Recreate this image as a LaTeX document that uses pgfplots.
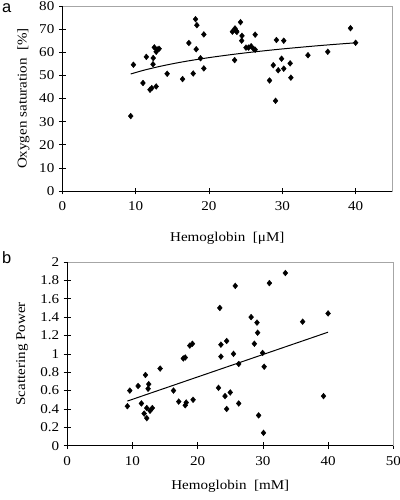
\documentclass[border=0pt]{standalone}
\usepackage{fontspec}
\setmainfont{Liberation Serif}[FakeStretch=1.12]
\newfontfamily\labfont{Liberation Sans}
\usepackage{pgfplots}
\pgfplotsset{compat=1.18}

\pgfplotsset{
  myaxis/.style={
    scale only axis,
    enlargelimits=false,
    axis line style={gray!70, line width=0.6pt},
    tick align=center,
    major tick length=7pt,
    tick style={black, line width=0.6pt},
    xtick pos=bottom, ytick pos=left,
    /pgf/number format/assume math mode=true,
    tick label style={font=\fontsize{13.5}{15}\selectfont},
    xticklabel style={yshift=-4pt},
    yticklabel style={xshift=-1pt},
    every axis plot/.append style={black},
    clip=false,
  },
  pts/.style={only marks, mark=diamond*, mark size=2.9pt,
    mark options={fill=black, draw=black, xscale=1.12}},
}

\pgfplotstableread{
x y
9.33 32.4
9.7 54.6
11.0 46.7
11.46 58.0
11.96 43.8
12.2 44.5
12.37 54.8
12.4 57.5
12.55 62.1
12.8 45.2
12.8 60.2
12.95 61.2
13.2 61.5
14.3 50.7
16.4 48.4
17.26 64.0
17.85 50.8
18.17 74.3
18.26 61.3
18.35 71.7
18.85 57.4
19.3 67.7
19.3 53.0
23.2 68.9
23.5 56.6
23.55 70.3
23.7 69.3
23.8 68.8
24.3 73.0
24.5 67.1
24.46 65.0
25.05 62.0
25.4 62.0
25.75 62.6
26.1 61.4
26.3 61.1
26.3 67.6
28.26 47.8
28.77 54.4
29.08 39.0
29.2 65.3
29.44 52.2
29.9 57.2
30.2 52.9
30.2 65.0
31.07 55.2
31.17 49.0
33.5 58.7
36.2 60.2
39.3 70.4
40.0 64.1
}\satdata

\pgfplotstableread{
x y
9.33 50.6
11 52.13
13 53.67
15 55.0
17 56.16
20 57.67
23 58.96
26 60.1
30 61.43
35 62.86
40 64.09
}\sattrend

\pgfplotstableread{
x y
9.23 0.43
9.6 0.60
10.87 0.65
11.38 0.46
11.8 0.35
12.0 0.77
12.2 0.41
12.2 0.30
12.4 0.62
12.5 0.67
12.7 0.38
13.05 0.41
14.25 0.84
16.3 0.60
17.1 0.48
17.8 0.95
18.1 0.96
18.1 0.44
18.25 0.47
18.8 1.09
19.2 1.11
19.3 0.50
23.2 0.63
23.4 1.50
23.57 1.10
23.57 0.97
24.2 0.54
24.45 1.14
24.45 0.40
25.0 0.58
25.5 1.00
25.77 1.74
26.3 0.89
26.3 0.46
28.2 1.40
28.7 1.11
29.1 1.34
29.2 1.23
29.35 0.33
29.96 1.01
30.1 0.14
30.2 0.86
31.0 1.77
33.45 1.88
36.1 1.35
39.3 0.54
40.0 1.44
}\scatdata

\pgfplotstableread{
x y
9.23 0.486
40.0 1.236
}\scattrend

\begin{document}
\begin{tikzpicture}
\useasboundingbox (0,0) rectangle (400bp,500bp);

\begin{axis}[myaxis,
  at={(62.3bp,309bp)}, anchor=south west,
  width=330bp, height=185bp,
  xmin=0, xmax=45, ymin=0, ymax=80,
  xtick={0,10,20,30,40},
  ytick={0,10,20,30,40,50,60,70,80},
  xlabel={Hemoglobin\ \ [μM]},
  ylabel={Oxygen saturation\ \ [\%]},
  every axis x label/.style={at={(axis description cs:0.5,-0.254)},anchor=center,font=\fontsize{13.5}{16}\selectfont},
  every axis y label/.style={at={(axis description cs:-0.118,0.5)},anchor=center,rotate=90,font=\fontsize{13.5}{16}\selectfont},
]
\addplot[pts] table[x=x,y=y] {\satdata};
\addplot[no marks, line width=1pt, smooth] table[x=x,y=y] {\sattrend};
\draw[black, line width=0.8pt] (rel axis cs:0,1) -- (rel axis cs:0,0) -- (rel axis cs:1,0);
\end{axis}

\begin{axis}[myaxis,
  at={(67.2bp,54.3bp)}, anchor=south west,
  width=326.1bp, height=183.7bp,
  xmin=0, xmax=50, ymin=0, ymax=2,
  xtick={0,10,20,30,40,50},
  ytick={0,0.2,0.4,0.6,0.8,1,1.2,1.4,1.6,1.8,2},
  yticklabel style={/pgf/number format/fixed},
  xlabel={Hemoglobin\ \ [mM]},
  ylabel={Scattering Power},
  every axis x label/.style={at={(axis description cs:0.5,-0.223)},anchor=center,font=\fontsize{13.5}{16}\selectfont},
  every axis y label/.style={at={(axis description cs:-0.138,0.5)},anchor=center,rotate=90,font=\fontsize{13.5}{16}\selectfont},
]
\addplot[pts] table[x=x,y=y] {\scatdata};
\addplot[no marks, line width=1pt] table[x=x,y=y] {\scattrend};
\draw[black, line width=0.8pt] (rel axis cs:0,1) -- (rel axis cs:0,0) -- (rel axis cs:1,0);
\end{axis}

\node[anchor=base west, inner sep=0, font=\labfont\fontsize{16.5}{19}\selectfont] at (2bp,487bp) {a};
\node[anchor=base west, inner sep=0, font=\labfont\fontsize{16.5}{19}\selectfont] at (2bp,236.7bp) {b};
\end{tikzpicture}
\end{document}
